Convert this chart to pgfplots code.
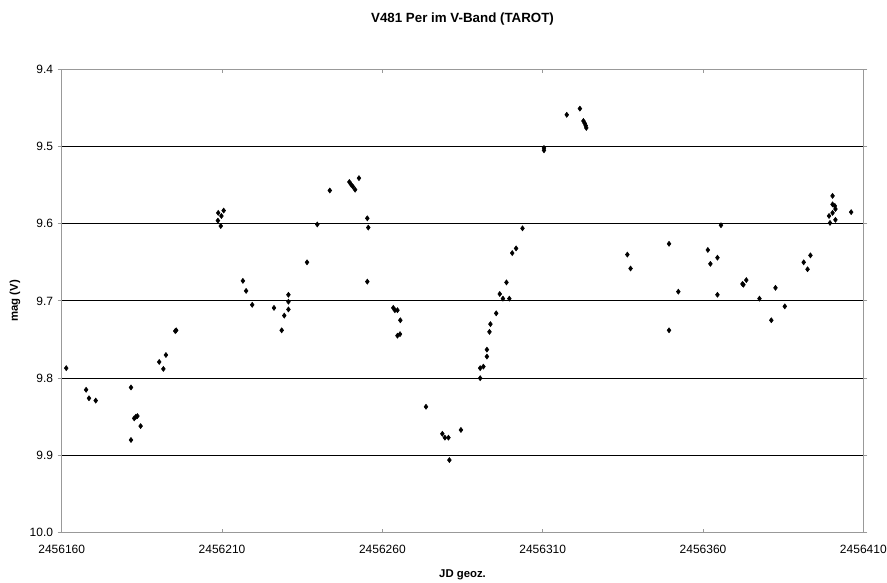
\documentclass[border=0pt]{standalone}
\usepackage{pgfplots}
\pgfplotsset{compat=1.18}
\usepackage{fontspec}
\setmainfont{Liberation Sans}
\begin{document}
% x values are JD - 2456160
\begin{tikzpicture}
\useasboundingbox (0,0) rectangle (665.25pt,436.5pt);
\begin{axis}[
  at={(46.3pt,37pt)}, anchor=south west,
  scale only axis, width=601.2pt, height=347.6pt,
  xmin=0, xmax=250, ymin=9.4, ymax=10.0,
  y dir=reverse,
  xtick={0,50,100,150,200,250},
  xticklabels={2456160,2456210,2456260,2456310,2456360,2456410},
  ytick={9.4,9.5,9.6,9.7,9.8,9.9,10.0},
  yticklabel style={/pgf/number format/.cd, fixed, fixed zerofill, precision=1},
  xticklabel style={yshift=-6pt},
  /pgf/number format/assume math mode=true,
  ymajorgrids, grid style={black, line width=0.75pt},
  axis line style={gray!80, line width=1pt},
  tick style={gray!80, line width=0.75pt},
  xtick align=inside, ytick align=outside,
  major tick length=3pt,
  tick label style={font=\fontsize{9}{10}\selectfont},
  title={V481 Per im V-Band (TAROT)},
  title style={font=\fontsize{10}{12}\selectfont\bfseries, at={(0.5,1)}, anchor=center, yshift=31.5pt},
  xlabel={JD geoz.},
  xlabel style={font=\fontsize{8.5}{10}\selectfont\bfseries, at={(0.5,0)}, anchor=center, yshift=-31.8pt},
  ylabel={mag (V)},
  ylabel style={font=\fontsize{8.5}{10}\selectfont\bfseries, at={(0,0.5)}, anchor=center, yshift=35pt},
  clip=false,
]
\addplot[only marks, mark=diamond*, mark size=1.9pt, black] table {
x y
1.4 9.787
7.6 9.815
8.5 9.826
10.6 9.829
21.6 9.812
22.6 9.852
23.1 9.850
23.6 9.849
24.6 9.862
21.6 9.880
30.4 9.779
31.7 9.788
32.5 9.770
35.4 9.739
35.7 9.738
48.8 9.586
48.7 9.596
49.8 9.590
50.5 9.583
49.6 9.603
56.5 9.674
57.5 9.687
59.4 9.705
66.2 9.709
68.6 9.738
69.4 9.719
70.7 9.692
70.7 9.701
70.7 9.711
76.5 9.650
79.7 9.601
83.6 9.557
89.7 9.546
90.2 9.549
90.8 9.552
91.5 9.556
92.7 9.541
95.3 9.593
95.6 9.605
95.3 9.675
103.4 9.709
103.9 9.712
104.7 9.712
105.6 9.725
104.7 9.745
105.5 9.743
113.6 9.837
118.7 9.872
119.5 9.877
120.6 9.877
120.9 9.906
124.5 9.867
130.5 9.800
130.5 9.787
131.5 9.785
132.6 9.772
132.6 9.763
133.4 9.740
133.7 9.730
135.5 9.716
136.6 9.691
137.6 9.697
139.6 9.697
138.7 9.676
140.5 9.638
141.7 9.632
143.7 9.606
150.4 9.502
150.4 9.505
157.5 9.459
161.6 9.451
162.7 9.467
163.1 9.470
163.4 9.473
163.6 9.476
176.4 9.640
177.4 9.658
189.4 9.626
189.4 9.738
192.3 9.688
201.5 9.634
202.3 9.652
204.5 9.644
204.5 9.692
205.6 9.602
212.3 9.678
212.6 9.679
213.5 9.673
217.6 9.697
221.3 9.725
222.6 9.683
225.5 9.707
231.4 9.650
232.6 9.659
233.5 9.641
240.4 9.564
240.4 9.575
241.1 9.577
241.3 9.581
239.3 9.590
240.4 9.586
239.6 9.599
241.3 9.595
246.2 9.585
};
\end{axis}
\end{tikzpicture}
\end{document}
